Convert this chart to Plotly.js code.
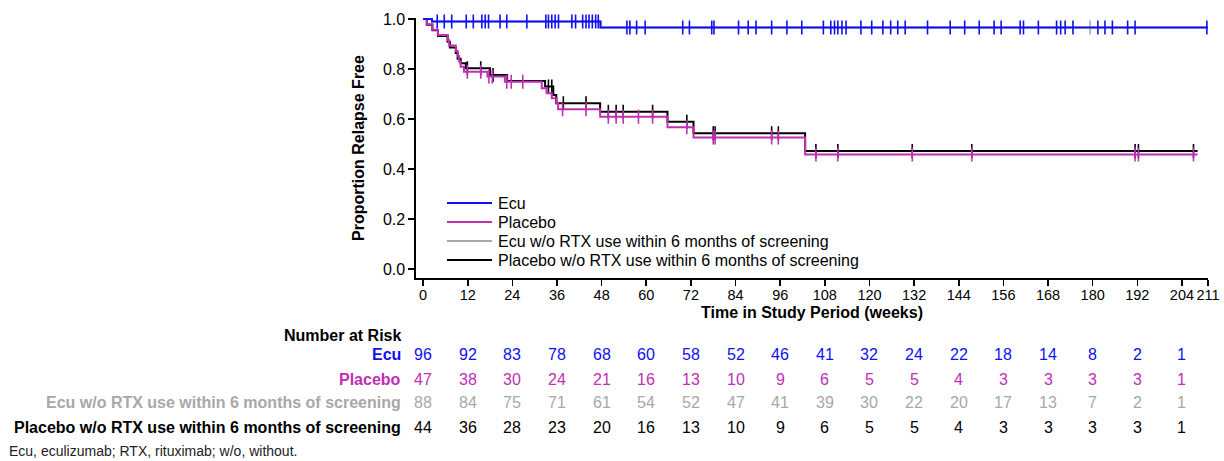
<!DOCTYPE html>
<html>
<head>
<meta charset="utf-8">
<script src="https://cdn.plot.ly/plotly-3.0.1.min.js"></script>
<style>html,body{margin:0;padding:0;background:#fff;}#chart{width:1224px;height:461px;}</style>
</head>
<body>
<div id="chart"></div>
<script>
// ---- Data ----
const weekTicks = [0,12,24,36,48,60,72,84,96,108,120,132,144,156,168,180,192,204,211];
const yTicks = [0,0.2,0.4,0.6,0.8,1.0];

const seriesNames = ['Ecu','Placebo','Ecu w/o RTX use within 6 months of screening','Placebo w/o RTX use within 6 months of screening'];

// Ecu
const ecuTimes = [2.4, 47.7];
const ecuSurv  = [0.99, 0.966];
const ecuEnd = 211;
const ecuCensor = [3.8,5.7,7.7,11.6,13.5,15.8,16.7,17.6,20.7,22.5,27.9,33.0,33.7,34.6,35.5,36.4,40.0,41.0,42.9,43.8,44.6,45.5,46.4,47.1,
  54.8,55.6,57.4,59.7,69.8,71.6,77.6,78.2,84.8,87.4,89.5,93.7,97.8,101.8,107.6,109.6,110.6,111.5,112.6,113.7,117.7,120.6,123.6,125.7,127.6,129.6,
  135.6,141.7,145.6,149.5,153.5,155.4,160.5,161.4,165.4,170.3,171.4,172.6,174.7,181.4,183.3,185.3,189.4,191.4,210.7];

// Ecu w/o RTX use within 6 months of screening
const ecuNoRtxTimes = [2.4, 47.7];
const ecuNoRtxSurv  = [0.99, 0.966];
const ecuNoRtxEnd = 211;
const ecuNoRtxCensor = [179.3];

// Placebo
const plaTimes = [1.0,2.5,4.0,6.6,7.0,8.8,9.3,9.7,10.1,11.0,17.3,22.0,31.9,33.2,34.6,35.9,36.3,47.6,65.7,72.7,102.7];
const plaSurv  = [0.979,0.957,0.936,0.915,0.894,0.872,0.851,0.830,0.809,0.789,0.770,0.749,0.723,0.703,0.683,0.663,0.639,0.609,0.567,0.526,0.458];
const plaEnd = 208.2;
const plaCensor = [11.9,15.5,17.7,18.6,22.5,23.7,26.8,37.5,43.8,49.8,51.9,53.8,57.9,61.7,70.9,78.0,78.5,93.7,95.5,105.6,111.5,131.5,147.5,191.4,192.3,207.1];

// Placebo w/o RTX use within 6 months of screening
const plaNoRtxTimes = [1.0,2.5,4.0,6.6,7.2,8.8,9.3,10.1,11.5,18.0,22.6,32.8,35.0,35.8,47.6,65.7,72.7,102.7];
const plaNoRtxSurv  = [0.977,0.955,0.932,0.909,0.886,0.864,0.841,0.823,0.803,0.776,0.752,0.730,0.696,0.663,0.629,0.589,0.543,0.472];
const plaNoRtxEnd = 208.2;
const plaNoRtxCensor = [11.9,15.5,18.8,33.7,34.6,37.7,43.8,49.8,51.9,53.8,61.7,70.9,78.0,78.5,93.7,95.5,105.6,111.5,131.5,147.5,191.4,192.3,207.1];

// Number at risk
const riskWeeks = [0,12,24,36,48,60,72,84,96,108,120,132,144,156,168,180,192,204];
const riskEcu = [96,92,83,78,68,60,58,52,46,41,32,24,22,18,14,8,2,1];
const riskPlacebo = [47,38,30,24,21,16,13,10,9,6,5,5,4,3,3,3,3,1];
const riskEcuNoRtx = [88,84,75,71,61,54,52,47,41,39,30,22,20,17,13,7,2,1];
const riskPlaceboNoRtx = [44,36,28,23,20,16,13,10,9,6,5,5,4,3,3,3,3,1];

// ---- Styling ----
const FONT = 'Liberation Sans, Arial, sans-serif';
const C_ECU = '#1010F5';
const C_PLA = '#C02FB4';
const C_GRAY = '#A8A8A8';
const C_BLACK = '#000000';
const colors = [C_ECU, C_PLA, C_GRAY, C_BLACK];

function survAt(times, surv, t){
  let s = 1;
  for (let i=0;i<times.length;i++){ if (times[i] <= t) s = surv[i]; }
  return s;
}
function stepTrace(name, times, surv, end, color){
  return {
    type:'scatter', mode:'lines', name:name, showlegend:false,
    x:[0].concat(times, [end]),
    y:[1].concat(surv, [surv[surv.length-1]]),
    line:{shape:'hv', color:color, width:2},
    cliponaxis:false, hoverinfo:'skip'
  };
}
function censorTrace(times, surv, cens, color){
  return {
    type:'scatter', mode:'markers', showlegend:false,
    x:cens, y:cens.map(t=>survAt(times,surv,t)),
    marker:{symbol:'line-ns-open', size:10, color:color, line:{color:color, width:1.6}},
    cliponaxis:false, hoverinfo:'skip'
  };
}

const traces = [
  stepTrace(seriesNames[2], ecuNoRtxTimes, ecuNoRtxSurv, ecuNoRtxEnd, C_GRAY),
  censorTrace(ecuNoRtxTimes, ecuNoRtxSurv, ecuNoRtxCensor, C_GRAY),
  stepTrace(seriesNames[3], plaNoRtxTimes, plaNoRtxSurv, plaNoRtxEnd, C_BLACK),
  censorTrace(plaNoRtxTimes, plaNoRtxSurv, plaNoRtxCensor, C_BLACK),
  stepTrace(seriesNames[1], plaTimes, plaSurv, plaEnd, C_PLA),
  censorTrace(plaTimes, plaSurv, plaCensor, C_PLA),
  stepTrace(seriesNames[0], ecuTimes, ecuSurv, ecuEnd, C_ECU),
  censorTrace(ecuTimes, ecuSurv, ecuCensor, C_ECU)
];

// ---- Layout geometry ----
const W = 1224, H = 461;
const mL = 416, mR = 16, mT = 18, mB = 183;
const plotW = W - mL - mR, plotH = H - mT - mB;
const px2paperX = px => (px - mL) / plotW;
const py2paperY = py => (H - mB - py) / plotH;

const annotations = [];
const shapes = [];

// legend (drawn as shapes + text)
seriesNames.forEach((nm,i)=>{
  const py = 203 + i*19;
  shapes.push({type:'line', xref:'paper', yref:'paper', x0:px2paperX(447), x1:px2paperX(492),
    y0:py2paperY(py), y1:py2paperY(py), line:{color:colors[i], width:2}});
  annotations.push({xref:'paper', yref:'paper', x:px2paperX(496), y:py2paperY(py), xanchor:'left', yanchor:'middle',
    text:nm, showarrow:false, font:{family:FONT, size:16, color:'#000'}});
});

const rows = [
  {label:seriesNames[0], vals:riskEcu, color:C_ECU, py:354},
  {label:seriesNames[1], vals:riskPlacebo, color:C_PLA, py:379},
  {label:seriesNames[2], vals:riskEcuNoRtx, color:C_GRAY, py:402},
  {label:seriesNames[3], vals:riskPlaceboNoRtx, color:C_BLACK, py:427}
];
annotations.push({xref:'paper', yref:'paper', x:px2paperX(403), y:py2paperY(335), xanchor:'right', yanchor:'middle',
  text:'<b>Number at Risk</b>', showarrow:false, font:{family:FONT, size:16, color:'#000'}});
rows.forEach(r=>{
  annotations.push({xref:'paper', yref:'paper', x:px2paperX(403), y:py2paperY(r.py), xanchor:'right', yanchor:'middle',
    text:'<b>'+r.label+'</b>', showarrow:false, font:{family:FONT, size:16, color:r.color}});
  r.vals.forEach((v,i)=>{
    annotations.push({xref:'x', yref:'paper', x:riskWeeks[i], y:py2paperY(r.py), xanchor:'center', yanchor:'middle',
      text:String(v), showarrow:false, font:{family:FONT, size:16, color:r.color}});
  });
});
annotations.push({xref:'paper', yref:'paper', x:px2paperX(7), y:py2paperY(451), xanchor:'left', yanchor:'middle',
  text:'Ecu, eculizumab; RTX, rituximab; w/o, without.', showarrow:false, font:{family:FONT, size:14, color:'#222'}});

const layout = {
  width:W, height:H,
  margin:{l:mL, r:mR, t:mT, b:mB, pad:0},
  paper_bgcolor:'#fff', plot_bgcolor:'#fff',
  font:{family:FONT, size:16, color:'#000'},
  showlegend:false,
  xaxis:{
    range:[-1.9, 211], tickvals:weekTicks, ticktext:weekTicks.map(String), tickangle:0,
    showgrid:false, zeroline:false, showline:true, linecolor:'#000', linewidth:1.6,
    ticks:'outside', ticklen:6, tickwidth:1.6, tickcolor:'#000', ticklabelstandoff:-3,
    tickfont:{family:FONT, size:14.5, color:'#000'},
    title:{text:'<b>Time in Study Period (weeks)</b>', font:{family:FONT, size:16, color:'#000'}, standoff:5}
  },
  yaxis:{
    range:[-0.036, 1.004], tickvals:yTicks, ticktext:yTicks.map(v=>v.toFixed(1)),
    showgrid:false, zeroline:false, showline:true, linecolor:'#000', linewidth:1.6,
    ticks:'outside', ticklen:6, tickwidth:1.6, tickcolor:'#000',
    tickfont:{family:FONT, size:16, color:'#000'},
    title:{text:'<b>Proportion Relapse Free</b>', font:{family:FONT, size:16, color:'#000'}, standoff:14}
  },
  shapes:shapes,
  annotations:annotations
};

Plotly.newPlot('chart', traces, layout, {staticPlot:true, displayModeBar:false});
</script>
</body>
</html>
